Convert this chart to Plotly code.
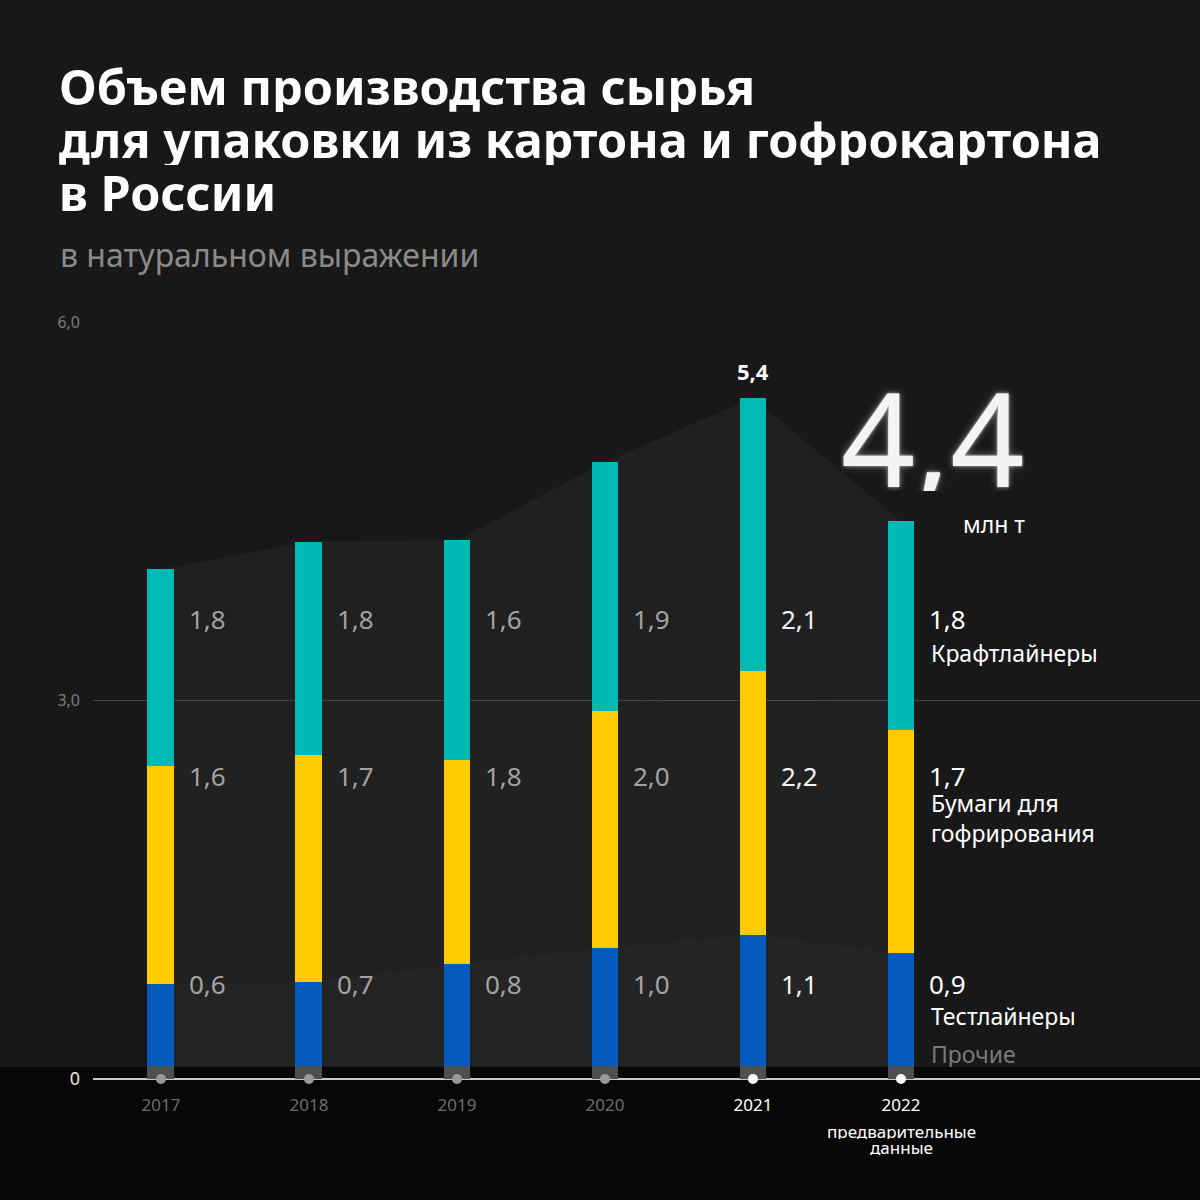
import plotly.graph_objects as go

# ---------------- data ----------------
years = ["2017", "2018", "2019", "2020", "2021", "2022"]
other = [0.10, 0.10, 0.10, 0.10, 0.10, 0.10]          # Прочие
testliner = [0.65, 0.67, 0.81, 0.94, 1.04, 0.90]      # Тестлайнеры
fluting = [1.73, 1.80, 1.62, 1.88, 2.09, 1.77]        # Бумаги для гофрирования
kraftliner = [1.56, 1.69, 1.74, 1.97, 2.17, 1.65]     # Крафтлайнеры

label_kraft = ["1,8", "1,8", "1,6", "1,9", "2,1", "1,8"]
label_flut = ["1,6", "1,7", "1,8", "2,0", "2,2", "1,7"]
label_test = ["0,6", "0,7", "0,8", "1,0", "1,1", "0,9"]

series_names = ["Прочие", "Тестлайнеры", "Бумаги для<br>гофрирования", "Крафтлайнеры"]
y_tickvals = [0, 3, 6]
y_ticktext = ["<span style='color:#e6e6e6;font-size:18px'>0</span>", "3,0", "6,0"]
total_2021 = "5,4"
total_2022 = "4,4"
unit = "млн т"
note_lines = ["предварительные", "данные"]

# ---------------- layout helpers ----------------
W = H = 1200
PL, PR = 93, 1200      # plot area, px
PT, PB = 322, 1079


def px(xp):
    return (xp - PL) / (PR - PL)


def py(yp):
    return (PB - yp) / (PB - PT)


FONT = "Noto Sans"
xs = list(range(len(years)))
cum1 = [a for a in other]
cum2 = [a + b for a, b in zip(cum1, testliner)]
cum3 = [a + b for a, b in zip(cum2, fluting)]
cum4 = [a + b for a, b in zip(cum3, kraftliner)]


def band_path(lower, upper):
    pts = ["M %s,%s" % (xs[0], lower[0])]
    for x, v in zip(xs, lower):
        pts.append("L %s,%s" % (x, v))
    for x, v in zip(xs[::-1], upper[::-1]):
        pts.append("L %s,%s" % (x, v))
    return " ".join(pts) + " Z"


fig = go.Figure()

bw = 0.182
colors = ["#4f4f4f", "#055bbd", "#ffcc00", "#00b9b5"]
for vals, name, col in zip([other, testliner, fluting, kraftliner], series_names, colors):
    fig.add_trace(go.Bar(x=xs, y=vals, name=name, marker=dict(color=col, line=dict(width=0)),
                         width=bw, showlegend=False))

# dots on the axis
dot_colors = ["#9a9a9a"] * 4 + ["#ffffff"] * 2
fig.add_trace(go.Scatter(x=xs, y=[0] * len(xs), mode="markers",
                         marker=dict(size=10, color=dot_colors, line=dict(width=0)),
                         cliponaxis=False, hoverinfo="skip", showlegend=False))

ann = []
# title
title_lines = ["Объем производства сырья", "для упаковки из картона и гофрокартона", "в России"]
for i, t in enumerate(title_lines):
    ann.append(dict(text=t, xref="paper", yref="paper", x=px(57), y=py(86 + 53 * i),
                    xanchor="left", yanchor="middle", showarrow=False, height=52,
                    font=dict(family=FONT, size=48.5, color="#ffffff", weight="bold")))
ann.append(dict(text="в натуральном выражении", xref="paper", yref="paper", x=px(58), y=py(255),
                xanchor="left", yanchor="middle", showarrow=False,
                font=dict(family=FONT, size=32, color="#8a8a8a")))

# value labels
lab_colors = ["#a3a3a3"] * 4 + ["#f2f2f2", "#ffffff"]
row_y = [py(619), py(776), py(984)]
for i in xs:
    for labs, yy in zip([label_kraft, label_flut, label_test], row_y):
        ann.append(dict(text=labs[i], x=i, xref="x", yref="paper", y=yy, xanchor="left",
                        yanchor="middle", xshift=26, showarrow=False, height=26,
                        font=dict(family=FONT, size=26, color=lab_colors[i])))

# series names at the right of 2022
name_pos = [(series_names[3], 653, "#ffffff", 26), (series_names[2], 818, "#ffffff", 62),
            (series_names[1], 1016, "#ffffff", 26), (series_names[0], 1054, "#7a7a7a", 26)]
for t, yy, c, hh in name_pos:
    ann.append(dict(text=t, x=5, xref="x", yref="paper", y=py(yy), xanchor="left", yanchor="middle",
                    xshift=28, showarrow=False, align="left", height=hh,
                    font=dict(family=FONT, size=23, color=c)))

# totals
ann.append(dict(text=total_2021, x=4, xref="x", yref="paper", y=py(371), xanchor="center",
                yanchor="middle", showarrow=False,
                font=dict(family=FONT, size=22, color="#ffffff", weight="bold")))
ann.append(dict(text=total_2022, xref="paper", yref="paper", x=px(933), y=py(436), xanchor="center",
                yanchor="middle", showarrow=False, height=110,
                font=dict(family=FONT, size=130, color="#f4f4f4",
                          shadow="0px 0px 3px #bbb, 0px 0px 9px #666")))
ann.append(dict(text=unit, xref="paper", yref="paper", x=px(994), y=py(524), xanchor="center",
                yanchor="middle", showarrow=False, height=24,
                font=dict(family=FONT, size=23, color="#ffffff")))
for t, yy in zip(note_lines, [1131, 1147]):
    ann.append(dict(text=t, x=5, xref="x", yref="paper", y=py(yy), height=16,
                    xanchor="center", yanchor="middle", showarrow=False,
                    font=dict(family=FONT, size=17, color="#ffffff")))

x_ticktext = [y if i < 4 else "<span style='color:#ffffff'>%s</span>" % y for i, y in enumerate(years)]

shapes = [
    # dark band under the bars and below the axis
    dict(type="rect", xref="paper", yref="paper", x0=-0.2, x1=1.0, y0=-0.3, y1=py(1067),
         fillcolor="#070707", line=dict(width=0), layer="below"),
]
# translucent areas connecting the bars (drawn below the bars)
for lo, up, a in [(cum1, cum2, 0.055), (cum2, cum3, 0.045), (cum3, cum4, 0.035)]:
    shapes.append(dict(type="path", xref="x", yref="y", path=band_path(lo, up),
                       fillcolor="rgba(255,255,255,%s)" % a, line=dict(width=0), layer="below"))

fig.update_layout(
    width=W, height=H,
    margin=dict(l=PL, r=W - PR, t=PT, b=H - PB, pad=0),
    paper_bgcolor="#181818", plot_bgcolor="rgba(0,0,0,0)",
    barmode="stack", bargap=0,
    annotations=ann, shapes=shapes,
    xaxis=dict(range=[-0.459, 7.02], tickvals=xs, ticktext=x_ticktext, showgrid=False,
               zeroline=False, showline=False, ticks="", ticklabelstandoff=14,
               tickfont=dict(family=FONT, size=17, color="#6d6d6d"), fixedrange=True),
    yaxis=dict(range=[0, 6], tickvals=y_tickvals, ticktext=y_ticktext, showgrid=True,
               gridcolor="#454545", gridwidth=1, zeroline=True, zerolinecolor="#c8c8c8",
               zerolinewidth=2, showline=False, ticks="", ticklabelstandoff=12,
               tickfont=dict(family=FONT, size=16, color="#7a7a7a"), fixedrange=True),
    font=dict(family=FONT),
)

fig.write_html("out.html", post_script="document.body.style.margin='0px';",
               config={"displayModeBar": False})
